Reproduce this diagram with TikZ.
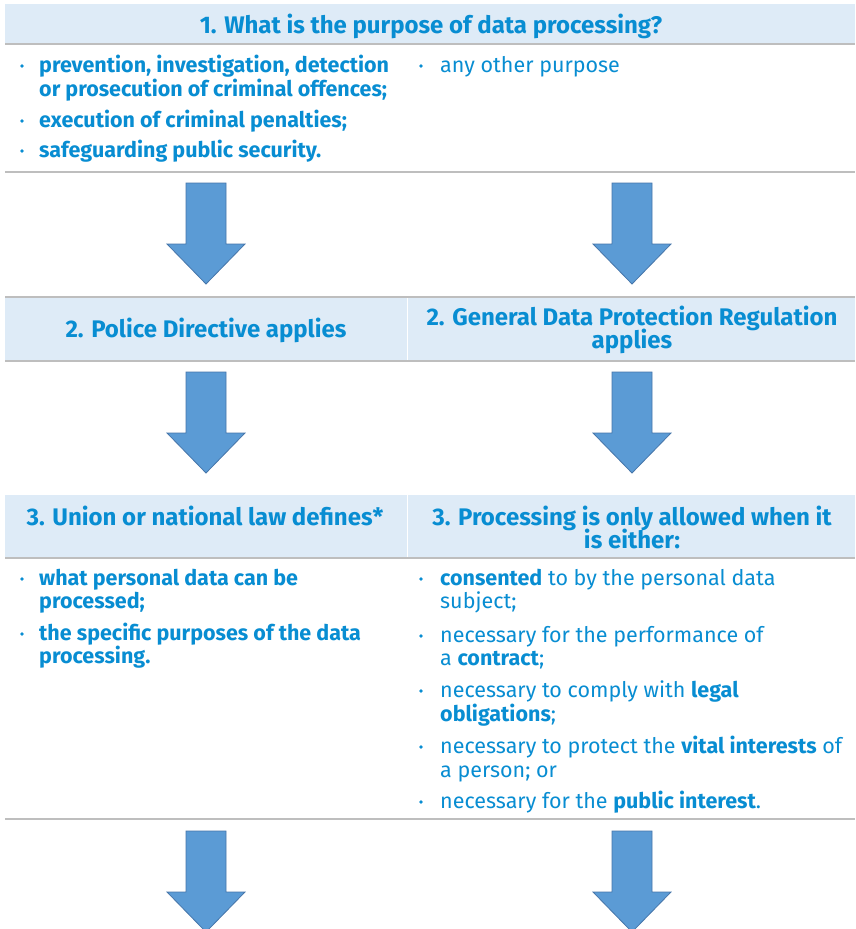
\documentclass[tikz,border=0pt]{standalone}
\usepackage{fontspec}
\setmainfont{Fira Sans}
\definecolor{txtblue}{RGB}{8,141,210}
\definecolor{bandblue}{RGB}{222,235,247}
\definecolor{rulegray}{RGB}{190,190,190}
\definecolor{arrowfill}{RGB}{91,155,213}
\definecolor{arrowedge}{RGB}{70,118,170}
\newcommand\hdrfont{\fontsize{24}{26}\selectfont\bfseries}
\newcommand\bdyfont{\fontsize{21.5}{23}\selectfont}
\tikzset{
  hdr/.style={font=\hdrfont, text=txtblue, anchor=base, inner sep=0pt},
  bodytxt/.style={font=\bdyfont, text=txtblue, anchor=base west, inner sep=0pt},
  boldtxt/.style={bodytxt, font=\bdyfont\bfseries},
  dotmark/.style={fill=txtblue, draw=none},
  band/.style={fill=bandblue},
  rule/.style={draw=rulegray, line width=1.5pt},
  colsep/.style={draw=white, line width=0.8pt},
  arrowshape/.style={fill=arrowfill, draw=arrowedge, line width=0.8pt, line join=miter},
  blockarrow/.pic={
    \path[arrowshape] (-20,0) -- (20,0) -- (20,61) -- (39,61) -- (0,101) -- (-39,61) -- (-20,61) -- cycle;
  }
}
\begin{document}
\begin{tikzpicture}[x=1pt,y=-1pt]
\useasboundingbox (0,0) rectangle (855,929);
\fill[white] (0,0) rectangle (855,929);

% bands
\path[band] (5,4) rectangle (855,44);
\path[band] (5,297) rectangle (855,361);
\path[band] (5,495) rectangle (855,558);
\draw[colsep] (407,297) -- (407,361);
\draw[colsep] (407,495) -- (407,558);

% rules
\foreach \yy in {44,172,297,361,558,819} {
  \draw[rule] (5,\yy) -- (855,\yy);
}

% row 1
\node[hdr] (h1) at (431,33) {1. What is the purpose of data processing?};
\fill[dotmark] (22,66) circle (1.9);
\node[boldtxt] (p1a) at (39,72) {prevention, investigation, detection};
\node[boldtxt] (p1b) at (39,96) {or prosecution of criminal offences;};
\fill[dotmark] (22,121) circle (1.9);
\node[boldtxt] (p2) at (39,127) {execution of criminal penalties;};
\fill[dotmark] (22,151) circle (1.9);
\node[boldtxt] (p3) at (39,157) {safeguarding public security.};
\fill[dotmark] (421,66) circle (1.9);
\node[bodytxt] (q1) at (440,72) {any other purpose};

% arrows 1
\pic at (206,183) {blockarrow};
\pic at (632,183) {blockarrow};

% row 2
\node[hdr] (h2l) at (206,337) {2. Police Directive applies};
\node[hdr] (h2ra) at (632,325) {2. General Data Protection Regulation};
\node[hdr] (h2rb) at (632,348) {applies};

% arrows 2
\pic at (206,372) {blockarrow};
\pic at (632,372) {blockarrow};

% row 3
\node[hdr] (h3l) at (205,525) {3. Union or national law defines*};
\node[hdr] (h3ra) at (632,525) {3. Processing is only allowed when it};
\node[hdr] (h3rb) at (632,548) {is either:};

\fill[dotmark] (22,579) circle (1.9);
\node[boldtxt] (u1a) at (39,585) {what personal data can be};
\node[boldtxt] (u1b) at (39,608) {processed;};
\fill[dotmark] (22,634) circle (1.9);
\node[boldtxt] (u2a) at (39,640) {the specific purposes of the data};
\node[boldtxt] (u2b) at (39,663) {processing.};

\fill[dotmark] (421,579) circle (1.9);
\node[bodytxt] (g1a) at (440,585) {\textbf{consented} to by the personal data};
\node[bodytxt] (g1b) at (440,608) {subject;};
\fill[dotmark] (421,636) circle (1.9);
\node[bodytxt] (g2a) at (440,642) {necessary for the performance of};
\node[bodytxt] (g2b) at (440,665) {a \textbf{contract};};
\fill[dotmark] (421,691) circle (1.9);
\node[bodytxt] (g3a) at (440,697) {necessary to comply with \textbf{legal}};
\node[bodytxt] (g3b) at (440,721) {\textbf{obligations};};
\fill[dotmark] (421,747) circle (1.9);
\node[bodytxt] (g4a) at (440,753) {necessary to protect the \textbf{vital interests} of};
\node[bodytxt] (g4b) at (440,777) {a person; or};
\fill[dotmark] (421,802) circle (1.9);
\node[bodytxt] (g5) at (440,808) {necessary for the \textbf{public interest}.};

% arrows 3
\pic at (206,831) {blockarrow};
\pic at (632,831) {blockarrow};
\end{tikzpicture}
\end{document}
